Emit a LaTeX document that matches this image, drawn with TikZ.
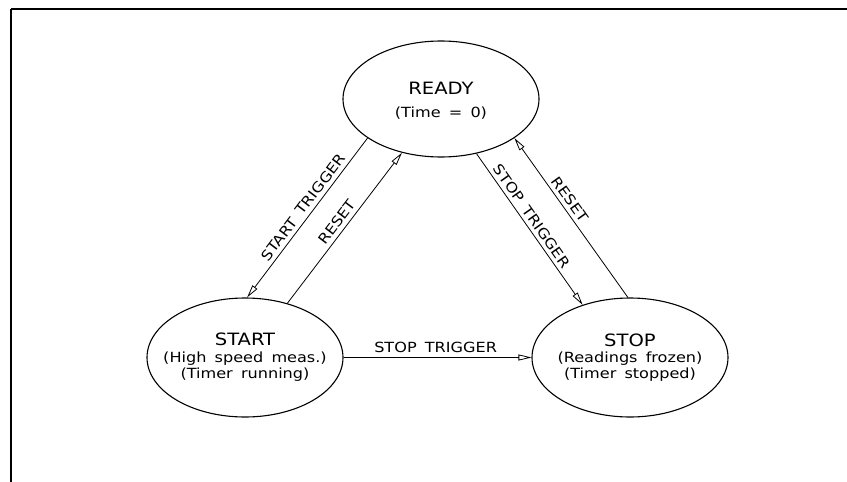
\documentclass[tikz,border=0pt]{standalone}
\usepackage{fontspec}
\setmainfont{DejaVu Sans}[FakeStretch=1.15, WordSpace=1.6]
\usetikzlibrary{arrows.meta,shapes.geometric}
\begin{document}
\begin{tikzpicture}[x=1pt,y=-1pt,
  state/.style={draw, ellipse, line width=1.1pt, minimum width=196pt, minimum height=119pt, inner sep=0pt},
  ttl/.style={anchor=base, inner sep=0pt, font=\fontsize{17}{17}\selectfont},
  sub/.style={anchor=base, inner sep=0pt, font=\fontsize{14}{14}\selectfont},
  conn/.style={line width=0.8pt, -{Triangle[open,length=13pt,width=6pt]}},
  lbl/.style={sloped, above, inner sep=4pt, font=\fontsize{14}{14}\selectfont}]
\useasboundingbox (0,0) rectangle (847,482);
% frame
\draw[line width=1.8pt] (11,9) -- (847,9);
\draw[line width=1.3pt] (11,9) -- (11,482);
% states
\node[state, minimum height=116pt] (ready) at (441,99) {};
\node[state] (start) at (245,357.5) {};
\node[state] (stop) at (630,357.5) {};
% texts
\node[ttl] (readyT) at (441,94) {READY};
\node[sub] (readyS) at (441,117) {(Time = 0)};
\node[ttl] (startT) at (245,345) {START};
\node[sub] (startS1) at (245,362) {(High speed meas.)};
\node[sub] (startS2) at (245,378) {(Timer running)};
\node[ttl] (stopT) at (630,346) {STOP};
\node[sub] (stopS1) at (630,362) {(Readings frozen)};
\node[sub] (stopS2) at (630,378) {(Timer stopped)};
% connectors
\draw[conn] (ready.208) -- node[lbl, pos=0.47] (l1) {START TRIGGER} (start.88);
\draw[conn] (start.52) -- node[lbl, pos=0.5] (l2) {RESET} (ready.234);
\draw[conn] (ready.303) -- node[lbl, pos=0.45] (l3) {STOP TRIGGER} (stop.132);
\draw[conn] (stop.92) -- node[lbl, pos=0.58] (l4) {RESET} (ready.332);
\draw[conn] (start.east) -- node[lbl, pos=0.49] (l5) {STOP TRIGGER} (stop.west);
\end{tikzpicture}
\end{document}
